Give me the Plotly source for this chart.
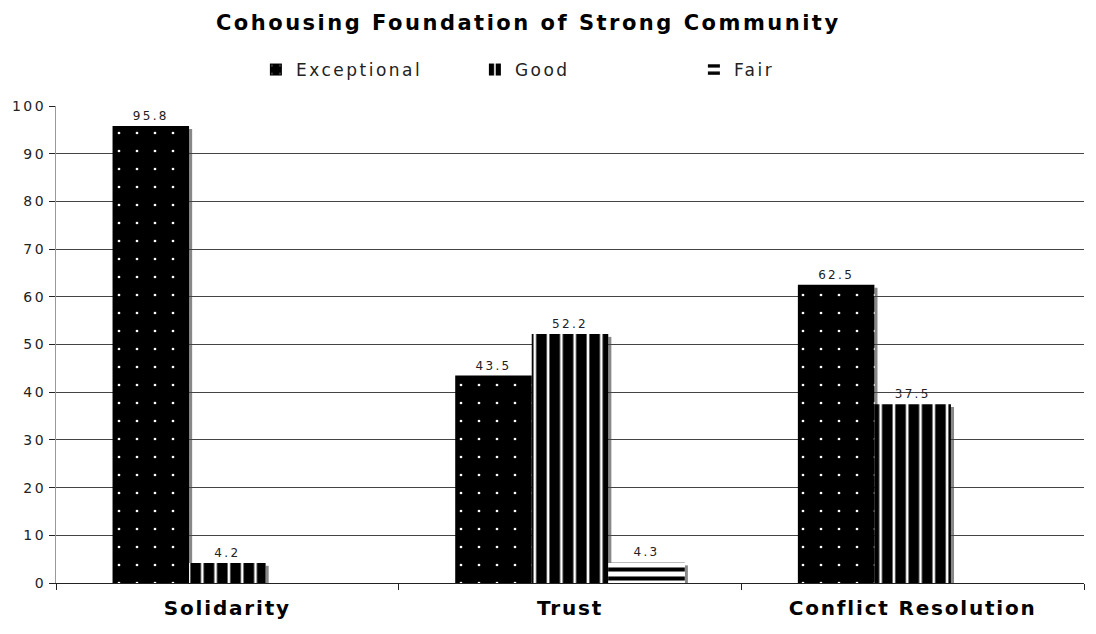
import plotly.graph_objects as go

categories = ["Solidarity", "Trust", "Conflict Resolution"]
exceptional = [95.8, 43.5, 62.5]
good = [4.2, 52.2, 37.5]
fair = [None, 4.3, None]
series_names = ["Exceptional", "Good", "Fair"]
y_ticks = [0, 10, 20, 30, 40, 50, 60, 70, 80, 90, 100]

FONT = "DejaVu Sans"
BARGAP = 0.33

patterns = [
    dict(shape=".", fgcolor="white", bgcolor="black", size=18, solidity=0.018, fillmode="replace"),
    dict(shape="|", fgcolor="black", bgcolor="white", size=13.3, solidity=0.8, fillmode="replace"),
    dict(shape="-", fgcolor="black", bgcolor="white", size=9, solidity=0.45, fillmode="replace"),
]

fig = go.Figure()
all_series = [exceptional, good, fair]
for name, vals, pat in zip(series_names, all_series, patterns):
    fig.add_trace(go.Bar(
        name=name,
        x=categories,
        y=vals,
        marker=dict(color="black", pattern=pat, line=dict(width=0)),
        text=[("" if v is None else f"{v:.1f}") for v in vals],
        textposition="outside",
        textfont=dict(family=FONT, size=12, color="#222"),
        cliponaxis=False,
    ))

# gray drop shadow on the right side of each bar
bar_w = (1 - BARGAP) / 3
shadow_w = 0.009
for i, vals in enumerate(all_series):
    for c, v in enumerate(vals):
        if v is None:
            continue
        right = c - (1 - BARGAP) / 2 + (i + 1) * bar_w
        fig.add_shape(type="rect", xref="x", yref="y",
                      x0=right, x1=right + shadow_w, y0=0, y1=v - 0.6,
                      fillcolor="#888", line=dict(width=0), layer="below")

fig.update_layout(
    width=1096, height=634,
    margin=dict(l=56, r=12, t=106, b=51),
    paper_bgcolor="white", plot_bgcolor="white",
    barmode="group", bargap=BARGAP, bargroupgap=0,
    title=dict(text="<b>Cohousing Foundation of Strong Community</b>",
               x=0.482, xanchor="center", y=0.965, yanchor="middle",
               font=dict(family=FONT, size=21, color="black")),
    legend=dict(orientation="h", x=0.514, xanchor="center", y=1.0755, yanchor="middle",
                font=dict(family=FONT, size=17, color="#222"),
                entrywidth=174, itemwidth=30, traceorder="normal"),
    font=dict(family=FONT, color="#222"),
    showlegend=True,
)
fig.update_xaxes(
    type="category", tickson="boundaries", ticks="outside", ticklen=6,
    tickcolor="#222", showline=True, linecolor="#222", linewidth=1,
    tickfont=dict(family=FONT, size=20, color="black"),
    ticklabelstandoff=7, showgrid=False,
    tickprefix="<b>", ticksuffix="</b>",
)
fig.update_yaxes(
    range=[0, 100], tickvals=y_ticks, ticks="outside", ticklen=6,
    tickcolor="#222", showline=True, linecolor="#999", linewidth=1,
    showgrid=True, gridcolor="#444", gridwidth=1, zeroline=False,
    tickfont=dict(family=FONT, size=14, color="#222"),
)

# widen the lettering of the chart's texts
spacing_js = """
var gd = document.getElementById('{plot_id}');
function widen() {
  var rules = [['.gtitle', '2.5px'], ['.legendtext', '2.5px'], ['.xtick text', '1.8px'],
               ['.ytick text', '2.5px'], ['.bartext', '2.3px']];
  rules.forEach(function (r) {
    gd.querySelectorAll(r[0]).forEach(function (el) { el.style.letterSpacing = r[1]; });
  });
}
widen();
gd.on('plotly_afterplot', widen);
"""

fig.write_html("out.html", post_script=spacing_js)
